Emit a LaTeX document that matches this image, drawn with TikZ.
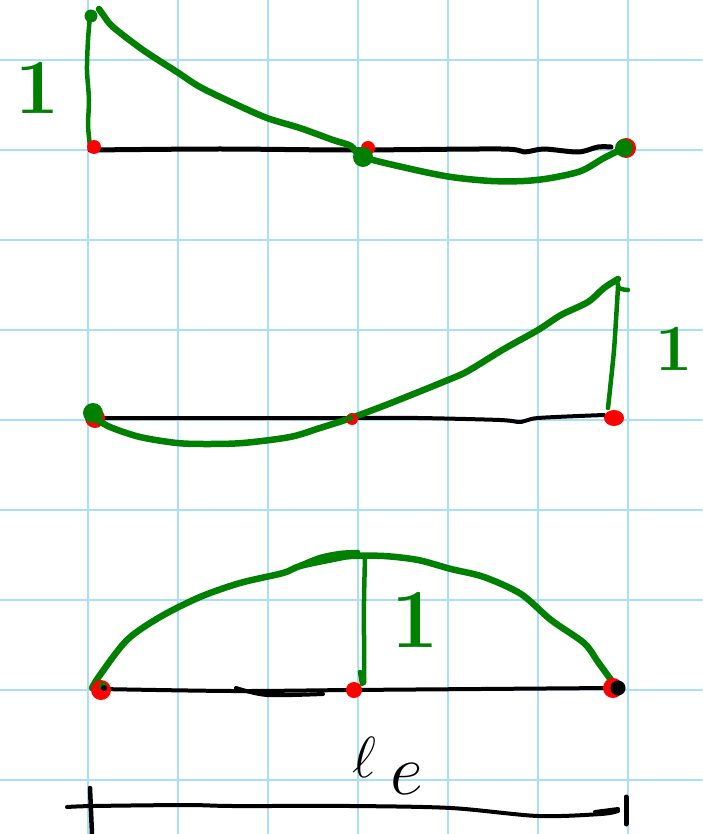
\RequirePackage{fix-cm}
\documentclass[tikz,border=0pt]{standalone}
\definecolor{gridblue}{RGB}{170,222,250}
\definecolor{pen}{RGB}{0,128,0}
\definecolor{dotred}{RGB}{255,0,0}
\begin{document}
\begin{tikzpicture}[x=1pt,y=-1pt,line cap=round,line join=round,
  gridline/.style={gridblue,line width=2.6pt},
  greenpen/.style={pen,line width=6.5pt},
  thingreen/.style={pen,line width=4.5pt},
  blackpen/.style={black,line width=5pt},
  thinblack/.style={black,line width=4pt},
  reddot/.style={fill=dotred},
  greendot/.style={fill=pen},
  onelabel/.style={pen,inner sep=0pt,font=\bfseries}]
\useasboundingbox (0,0) rectangle (702,834);
\fill[white] (0,0) rectangle (702,834);
% grid
\foreach \x in {88,178,268,358,448,538,628} \draw[gridline] (\x,0) -- (\x,834);
\foreach \y in {60,150,240,330,420,510,600,690,780} \draw[gridline] (0,\y) -- (702,\y);

% ---------- panel 1 ----------
\draw[blackpen] plot[smooth] coordinates {(90,150) (220,149) (351,150) (501,149) (524,152) (544,149) (578,152) (598,147) (611,147)};
\draw[thingreen] plot[smooth] coordinates {(90,16) (88,40) (87,70) (89,100) (88,125) (90,146)};
\fill[reddot] (94,147) circle[radius=7pt];
\fill[greendot] (91,16) circle[radius=6.5pt];
\draw[greenpen] plot[smooth] coordinates {(99,9) (104,16) (113,27) (143,50) (177,72) (200,87) (233,103) (267,118) (300,128) (333,140) (351,146) (363,157) (411,169) (451,177) (491,181) (524,181) (551,178) (581,171) (604,158) (624,148)};
\fill[reddot] (368,148) circle[radius=7pt];
\fill[greendot] (363,157) circle[radius=10pt];
\fill[reddot] (626,148) circle[radius=10pt];
\fill[greendot] (624,148) circle[radius=9pt];
\node[onelabel,font=\bfseries\fontsize{78}{78}\selectfont] (one1) at (37,88) {1};

% ---------- panel 2 ----------
\draw[thinblack] plot[smooth] coordinates {(93,418) (250,418) (350,418) (418,418) (500,420) (521,422) (538,418) (604,415)};
\fill[reddot] (95,418) circle[radius=10pt];
\fill[greendot] (93,413) circle[radius=10pt];
\draw[greenpen] plot[smooth] coordinates {(93,417) (110,427) (140,437) (177,443) (207,444) (243,443) (290,437) (320,428) (351,418) (391,403) (448,380) (468,371) (504,349) (538,330) (561,315) (588,302) (604,288) (618,279)};
\draw[thingreen] plot[smooth] coordinates {(617,279) (619,288) (628,290)};
\draw[thingreen] plot[smooth] coordinates {(618,287) (616,320) (614,350) (611,380) (608,408)};
\fill[reddot] (614,418) ellipse[x radius=10pt,y radius=8pt];
\fill[reddot] (352,419) circle[radius=6pt];
\fill[greendot] (350,418) circle[radius=3.5pt];
\node[onelabel,font=\bfseries\fontsize{66}{66}\selectfont] (one2) at (674,349) {1};

% ---------- panel 3 ----------
\draw[thinblack] plot[smooth] coordinates {(100,689) (233,691) (351,690) (480,689) (611,688)};
\draw[thinblack] plot[smooth] coordinates {(236,688) (267,695) (323,694)};
\draw[greenpen] plot[smooth] coordinates {(92,688) (100,675) (127,640) (160,617) (200,597) (240,583) (283,573) (300,566) (333,559) (351,556) (384,556) (418,560) (451,569) (484,577) (521,594) (551,620) (584,643) (598,662) (614,684)};
\draw[thingreen] plot[smooth] coordinates {(300,565) (320,557) (340,553) (358,552)};
\draw[thingreen] plot[smooth] coordinates {(365,558) (364,600) (364,640) (364,683)};
\draw[thingreen] (360,672) -- (362,684);
\fill[reddot] (101,690) circle[radius=10pt];
\fill[greendot] (103,686) circle[radius=4pt];
\fill[black] (104,688) circle[radius=3pt];
\fill[reddot] (354,690) circle[radius=8pt];
\fill[reddot] (613,688) circle[radius=10pt];
\fill[black] (618,688) circle[radius=7.5pt];
\node[onelabel,font=\bfseries\fontsize{84}{84}\selectfont] (one3) at (415,620) {1};

% ---------- dimension ----------
\draw[thinblack] plot[smooth] coordinates {(67,807) (93,806) (187,805) (233,806) (351,806) (451,808) (538,816) (601,814) (618,811)};
\draw[thinblack] (595,812) -- (618,809);
\draw[black,line width=4.5pt] (90,788) -- (92,834);
\draw[black,line width=5pt] (626,797) -- (626,824);
\node[inner sep=0pt,anchor=base west] (le) at (352,777) {\fontsize{58}{58}\selectfont$\ell$\hspace{14pt}\raisebox{-0.3em}{\fontsize{72}{72}\selectfont$e$}};
\end{tikzpicture}
\end{document}
